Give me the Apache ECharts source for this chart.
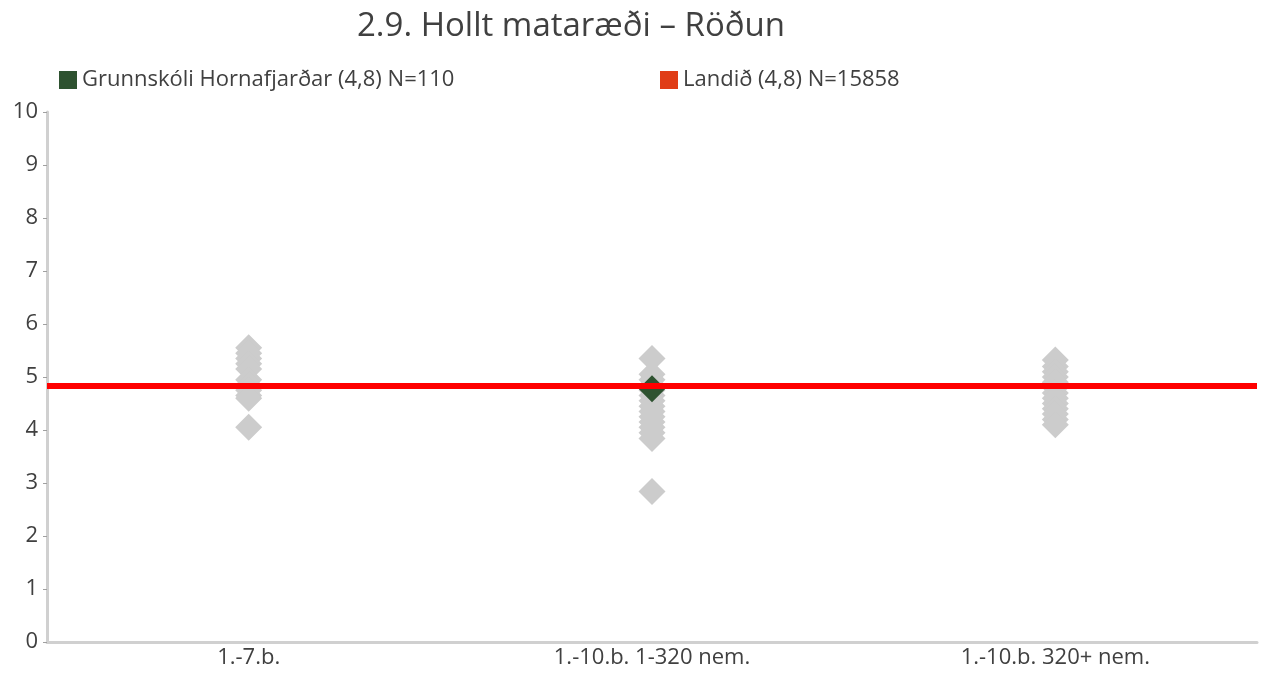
<!DOCTYPE html>
<html>
<head>
<meta charset="utf-8">
<script src="https://cdn.jsdelivr.net/npm/echarts@6/dist/echarts.min.js"></script>
<style>
  html, body { margin: 0; padding: 0; background: #ffffff; }
  #chart { width: 1272px; height: 674px; }
</style>
</head>
<body>
<div id="chart"></div>
<script>
// Category labels on the x axis
var categories = ['1.-7.b.', '1.-10.b. 1-320 nem.', '1.-10.b. 320+ nem.'];

// Scores of other schools in each group (grey diamonds)
var groupSmall = [5.55, 5.45, 5.35, 5.25, 5.15, 4.95, 4.85, 4.75, 4.65, 4.60, 4.05];
var groupMid = [5.35, 5.05, 4.95, 4.85, 4.75, 4.65, 4.55, 4.45, 4.35, 4.25, 4.15, 4.05, 3.95, 3.84, 2.84];
var groupLarge = [5.32, 5.20, 5.10, 5.00, 4.90, 4.80, 4.70, 4.60, 4.50, 4.40, 4.30, 4.20, 4.10];

// Highlighted school and national average
var schoolName = 'Grunnskóli Hornafjarðar (4,8) N=110';
var schoolCategory = '1.-10.b. 1-320 nem.';
var schoolValue = 4.78;
var nationName = 'Landið (4,8) N=15858';
var nationValue = 4.84;

// Y axis tick values
var yTicks = [0, 1, 2, 3, 4, 5, 6, 7, 8, 9, 10];

var greyPoints = [];
[groupSmall, groupMid, groupLarge].forEach(function (arr, i) {
  arr.forEach(function (v) { greyPoints.push([categories[i], v]); });
});

var textColor = '#404040';
var fontFamily = '"Open Sans", sans-serif';

var chart = echarts.init(document.getElementById('chart'));
chart.setOption({
  animation: false,
  backgroundColor: '#ffffff',
  textStyle: { fontFamily: fontFamily },
  title: {
    text: '2.9. Hollt mataræði – Röðun',
    left: 566,
    textAlign: 'center',
    top: 5,
    textStyle: { fontSize: 33, fontWeight: 'normal', color: textColor, fontFamily: fontFamily }
  },
  legend: [
    {
      data: [{ name: schoolName, itemStyle: { color: '#2e5230', opacity: 1 } }],
      left: 54, top: 64,
      icon: 'rect', itemWidth: 18, itemHeight: 18, itemGap: 8,
      textStyle: { fontSize: 22, color: textColor, fontFamily: fontFamily }
    },
    {
      data: [{ name: nationName, itemStyle: { color: '#e03c16', opacity: 1 } }],
      left: 655, top: 64,
      icon: 'rect', itemWidth: 18, itemHeight: 18, itemGap: 8,
      textStyle: { fontSize: 22, color: textColor, fontFamily: fontFamily }
    }
  ],
  grid: { left: 47, right: 15, top: 112, bottom: 32 },
  xAxis: {
    type: 'category',
    data: categories,
    axisLine: { lineStyle: { color: '#d0d0d0', width: 3 } },
    axisTick: { show: false },
    axisLabel: { fontSize: 22, color: textColor, margin: 5, fontFamily: fontFamily },
    splitLine: { show: false }
  },
  yAxis: {
    type: 'value',
    min: yTicks[0],
    max: yTicks[yTicks.length - 1],
    interval: 1,
    axisLine: { show: true, lineStyle: { color: '#d0d0d0', width: 3 } },
    axisTick: { show: true, length: 4, lineStyle: { color: '#a0a0a0', width: 1 } },
    axisLabel: { fontSize: 22, color: textColor, margin: 9, fontFamily: fontFamily },
    splitLine: { show: false }
  },
  series: [
    {
      name: 'others',
      type: 'scatter',
      symbol: 'diamond',
      symbolSize: 27,
      itemStyle: { color: '#cccccc', opacity: 1 },
      data: greyPoints,
      z: 2
    },
    {
      name: nationName,
      type: 'line',
      data: [],
      itemStyle: { color: '#e03c16' },
      markLine: {
        silent: true,
        symbol: ['none', 'none'],
        label: { show: false },
        lineStyle: { color: '#ff0000', width: 6, type: 'solid', opacity: 1 },
        data: [{ yAxis: nationValue }]
      },
      z: 3
    },
    {
      name: schoolName,
      type: 'scatter',
      symbol: 'diamond',
      symbolSize: 27,
      itemStyle: { color: '#2e5230', opacity: 1 },
      data: [[schoolCategory, schoolValue]],
      z: 4
    }
  ]
});
</script>
</body>
</html>
